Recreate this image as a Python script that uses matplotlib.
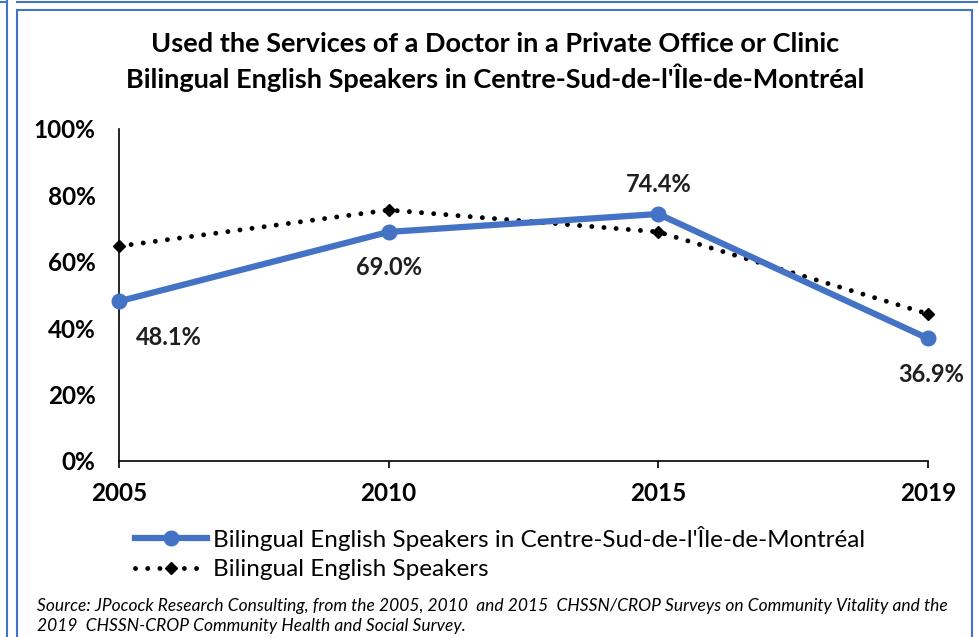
import matplotlib
matplotlib.use("Agg")
import matplotlib.pyplot as plt
from matplotlib.lines import Line2D
from matplotlib.patches import Rectangle

years = ["2005", "2010", "2015", "2019"]
region_vals = [48.1, 69.0, 74.4, 36.9]
overall_vals = [64.7, 75.6, 69.0, 44.3]
region_labels = ["48.1%", "69.0%", "74.4%", "36.9%"]
yticks = [0, 20, 40, 60, 80, 100]
ytick_labels = ["0%", "20%", "40%", "60%", "80%", "100%"]

title = ("Used the Services of a Doctor in a Private Office or Clinic\n"
         "Bilingual English Speakers in Centre-Sud-de-l'Île-de-Montréal")
legend_names = ["Bilingual English Speakers in Centre-Sud-de-l'Île-de-Montréal",
                "Bilingual English Speakers"]
source = ("Source: JPocock Research Consulting, from the 2005, 2010  and 2015  CHSSN/CROP Surveys on Community Vitality and the\n"
          "2019  CHSSN-CROP Community Health and Social Survey.")

plt.rcParams['font.family'] = ['Lato', 'DejaVu Sans']
W, H = 979, 637
fig = plt.figure(figsize=(W / 100, H / 100), dpi=100)

# frame borders
frame_col = "#4472C4"
fig.patches.append(Rectangle((17 / W, -0.01), (972 - 17) / W, 1 - 10 / H + 0.01,
                             transform=fig.transFigure, fill=False, edgecolor=frame_col, lw=1.5))
fig.add_artist(Line2D([7 / W, 7 / W], [0, 1], transform=fig.transFigure, color=frame_col, lw=1.5))
fig.add_artist(Line2D([17 / W, 1], [1 - 1.5 / H, 1 - 1.5 / H], transform=fig.transFigure, color=frame_col, lw=1.5))
fig.add_artist(Line2D([0, 7 / W], [1 - 1.5 / H, 1 - 1.5 / H], transform=fig.transFigure, color=frame_col, lw=1.5))

dot_style = (0, (0.01, 2.5))
ax = fig.add_axes([119 / W, 1 - 461 / H, (928 - 119) / W, (461 - 129) / H])
x = list(range(len(years)))
ax.plot(x, overall_vals, color="black", lw=3.5, linestyle=dot_style, dash_capstyle="round",
        marker="D", markersize=6.5, markerfacecolor="black", markeredgecolor="black", zorder=3)
ax.plot(x, region_vals, color="#4472C4", lw=4.5, marker="o", markersize=10.5, zorder=4,
        solid_capstyle="round")

offsets = [(50, -36), (0, -36), (0, 29), (3, -36)]
for xi, v, lab, off in zip(x, region_vals, region_labels, offsets):
    ax.annotate(lab, (xi, v), xytext=off, textcoords="offset pixels",
                ha="center", va="center", fontsize=17, fontweight="bold", color="#1f1f1f")

ax.set_xlim(0, 3)
ax.set_ylim(0, 100)
ax.set_yticks(yticks)
ax.set_yticklabels(ytick_labels, fontsize=17.5, fontweight="bold")
ax.set_xticks(x)
ax.set_xticklabels(years, fontsize=17.5, fontweight="bold")
ax.tick_params(axis="y", length=0, pad=17)
ax.tick_params(axis="x", length=5, direction="out", pad=10, width=1.2)
for s in ["top", "right"]:
    ax.spines[s].set_visible(False)
ax.spines["left"].set_linewidth(1.2)
ax.spines["bottom"].set_linewidth(1.2)
for ln in ax.lines:
    ln.set_clip_on(False)

fig.text(495 / W, 1 - 62 / H, title, ha="center", va="center", fontsize=19.5, fontweight="bold",
         linespacing=1.3)

handles = [Line2D([], [], color="#4472C4", lw=4.5, marker="o", markersize=10.5),
           Line2D([], [], color="black", lw=3.5, linestyle=dot_style, dash_capstyle="round",
                  marker="D", markersize=6.5)]
fig.legend(handles, legend_names, loc="upper left", bbox_to_anchor=(135 / W, 1 - 526 / H),
           frameon=False, fontsize=17.5, handlelength=2.95, handletextpad=0.25, labelspacing=0.33,
           borderpad=0, borderaxespad=0)

fig.text(37 / W, 1 - 616 / H, source, ha="left", va="center", fontsize=12.5, style="italic",
         linespacing=1.35)

fig.savefig("out.png", dpi=100)
